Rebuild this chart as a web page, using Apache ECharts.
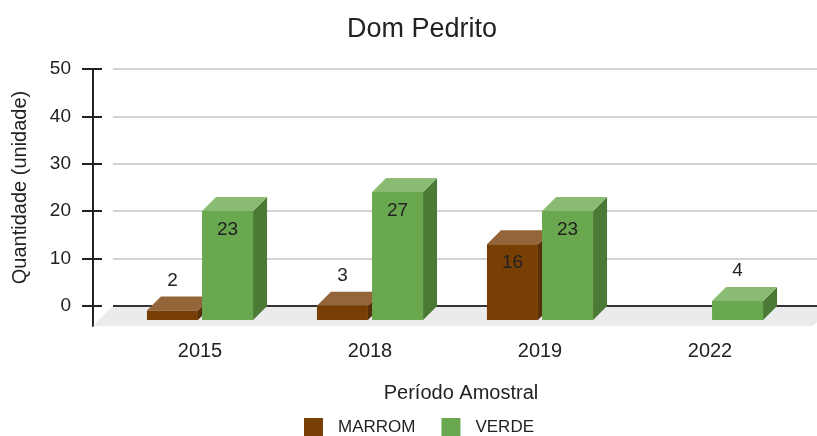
<!DOCTYPE html>
<html>
<head>
<meta charset="utf-8">
<script src="https://cdn.jsdelivr.net/npm/echarts@6/dist/echarts.min.js"></script>
<style>
  html, body { margin: 0; padding: 0; background: #fff; }
  #chart { width: 817px; height: 436px; }
</style>
</head>
<body>
<div id="chart"></div>
<script>
    // dados
    const anos = ['2015', '2018', '2019', '2022'];
    const marrom = [2, 3, 16, null];
    const verde = [23, 27, 23, 4];
    const yMin = 0, yMax = 50, yStep = 10;

    const DEPTH = 14;      // profundidade das barras
    const FLOOR = 20;      // profundidade do piso
    const font = '"Liberation Sans", Arial, sans-serif';

    const cores = {
        MARROM: { front: '#783f04', top: '#95653a', side: '#55300a' },
        VERDE: { front: '#6aa84f', top: '#89bb72', side: '#4a7a36' }
    };

    function barra(idx, c) {
        return function (params, api) {
            const v = api.value(1);
            if (v == null || isNaN(v)) return;
            const base = api.coord([api.value(0), 0]);
            const top = api.coord([api.value(0), v]);
            const band = api.size([1, 0])[0];
            const w = band * 0.3;
            const gap = band * 0.012;
            const x0 = idx === 0 ? base[0] - gap - w : base[0] + gap;
            const x1 = x0 + w;
            const yt = top[1], yb = base[1];
            const labelY = v >= 10 ? yt + 19 : yt - 30;
            return {
                type: 'group',
                children: [
                    { type: 'polygon', shape: { points: [[x1, yt], [x1 + DEPTH, yt - DEPTH], [x1 + DEPTH, yb - DEPTH], [x1, yb]] }, style: { fill: c.side } },
                    { type: 'polygon', shape: { points: [[x0, yt], [x0 + DEPTH, yt - DEPTH], [x1 + DEPTH, yt - DEPTH], [x1, yt]] }, style: { fill: c.top } },
                    { type: 'rect', shape: { x: x0, y: yt, width: w, height: yb - yt }, style: { fill: c.front } },
                    { type: 'text', x: (x0 + x1) / 2, y: labelY, style: { text: String(v), fill: '#222', font: '19px ' + font, textAlign: 'center', textVerticalAlign: 'middle' } }
                ]
            };
        };
    }

    const chart = echarts.init(document.getElementById('chart'));
    chart.setOption({
        animation: false,
        title: {
            text: 'Dom Pedrito',
            left: 347,
            top: 16,
            padding: 0,
            textStyle: { fontFamily: font, fontSize: 27, fontWeight: 'normal', color: '#222' }
        },
        legend: {
            data: ['MARROM', 'VERDE'],
            top: 418,
            left: 304,
            padding: 0,
            icon: 'rect',
            itemWidth: 19,
            itemHeight: 19,
            itemGap: 26,
            textStyle: { fontFamily: font, fontSize: 17, color: '#222', padding: [0, 0, 0, 10] }
        },
        grid: [
            { left: 113, right: 0, top: 69, height: 237 },   // plano de fundo
            { left: 115, right: 22, top: 83, height: 237 },  // plano frontal
            { left: 93, width: 1, top: 69, height: 257 },    // linha do eixo
            { left: 93, width: 1, top: 69, height: 237 }     // marcas do eixo
        ],
        xAxis: [
            {
                gridIndex: 0, type: 'value', min: 0, max: 1,
                axisLine: { show: false }, axisTick: { show: false }, axisLabel: { show: false }, splitLine: { show: false },
                name: 'Período Amostral', nameLocation: 'middle', nameGap: 77,
                nameTextStyle: { fontFamily: font, fontSize: 20, color: '#222', padding: [0, 8, 0, 0] }
            },
            {
                gridIndex: 1, type: 'category', data: anos,
                axisLine: { show: false }, axisTick: { show: false },
                axisLabel: { margin: 21, fontFamily: font, fontSize: 20, color: '#222' }
            },
            { gridIndex: 2, type: 'value', show: false },
            { gridIndex: 3, type: 'value', show: false }
        ],
        yAxis: [
            {
                gridIndex: 0, type: 'value', min: yMin, max: yMax, interval: yStep,
                axisLine: { show: false }, axisTick: { show: false }, axisLabel: { show: false },
                splitLine: { lineStyle: { color: '#d3d3d3', width: 2 } }
            },
            {
                gridIndex: 3, type: 'value', position: 'left', min: yMin, max: yMax, interval: yStep,
                axisLine: { show: false },
                axisTick: { show: true, length: 11, lineStyle: { color: '#222', width: 2 } },
                axisLabel: { margin: 22, fontFamily: font, fontSize: 19, color: '#222' },
                splitLine: { show: false },
                name: 'Quantidade (unidade)', nameLocation: 'middle', nameGap: 63,
                nameTextStyle: { fontFamily: font, fontSize: 20, color: '#222' }
            },
            {
                gridIndex: 3, type: 'value', position: 'left', min: yMin, max: yMax, interval: yStep,
                axisLine: { show: false },
                axisTick: { show: true, inside: true, length: 9, lineStyle: { color: '#222', width: 2 } },
                axisLabel: { show: false }, splitLine: { show: false }
            },
            {
                gridIndex: 2, type: 'value', min: 0, max: 1,
                axisLine: { show: true, onZero: false, lineStyle: { color: '#222', width: 2 } },
                axisTick: { show: false }, axisLabel: { show: false }, splitLine: { show: false }
            },
            { gridIndex: 1, type: 'value', min: yMin, max: yMax, show: false }
        ],
        series: [
            {
                name: 'piso', type: 'custom', xAxisIndex: 0, yAxisIndex: 0, silent: true,
                data: [[0]],
                renderItem: function (params, api) {
                    const l = api.coord([0, 0]);
                    const r = api.coord([1, 0]);
                    return {
                        type: 'group',
                        children: [
                            { type: 'polygon', shape: { points: [[l[0], l[1]], [r[0] + 16, l[1]], [r[0] + 16 - FLOOR, l[1] + FLOOR], [l[0] - FLOOR, l[1] + FLOOR]] }, style: { fill: '#ebebeb' } },
                            { type: 'line', shape: { x1: l[0], y1: l[1], x2: r[0], y2: r[1] }, style: { stroke: '#333', lineWidth: 2 } }
                        ]
                    };
                }
            },
            {
                name: 'MARROM', type: 'custom', xAxisIndex: 1, yAxisIndex: 4,
                itemStyle: { color: cores.MARROM.front },
                data: marrom.map((v, i) => [i, v]),
                renderItem: barra(0, cores.MARROM)
            },
            {
                name: 'VERDE', type: 'custom', xAxisIndex: 1, yAxisIndex: 4,
                itemStyle: { color: cores.VERDE.front },
                data: verde.map((v, i) => [i, v]),
                renderItem: barra(1, cores.VERDE)
            }
        ]
    });
</script>
</body>
</html>
